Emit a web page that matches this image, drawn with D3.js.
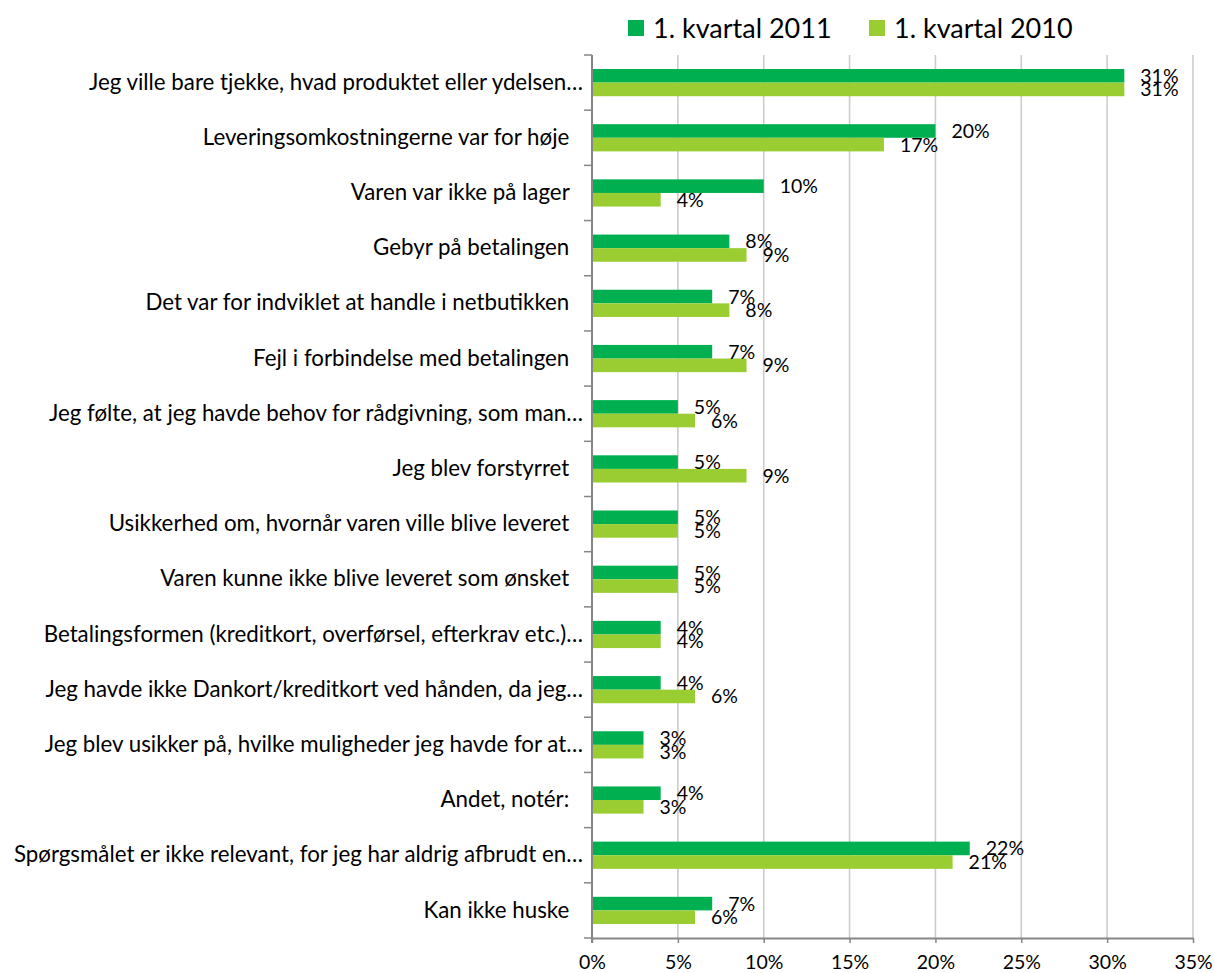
<!DOCTYPE html>
<html>
<head>
<meta charset="utf-8">
<script src="https://cdn.jsdelivr.net/npm/d3@7"></script>
<style>
  body { margin: 0; background: #fff; }
  svg { display: block; font-family: Lato, 'Open Sans', sans-serif; }
</style>
</head>
<body>
<div id="chart"></div>
<script>
  // Categories (top to bottom) — trailing spaces kept as in the original labels
  const categories = [
    'Jeg ville bare tjekke, hvad produktet eller ydelsen…',
    'Leveringsomkostningerne var for høje ',
    'Varen var ikke på lager ',
    'Gebyr på betalingen ',
    'Det var for indviklet at handle i netbutikken ',
    'Fejl i forbindelse med betalingen ',
    'Jeg følte, at jeg havde behov for rådgivning, som man…',
    'Jeg blev forstyrret ',
    'Usikkerhed om, hvornår varen ville blive leveret ',
    'Varen kunne ikke blive leveret som ønsket ',
    'Betalingsformen (kreditkort, overførsel, efterkrav etc.)…',
    'Jeg havde ikke Dankort/kreditkort ved hånden, da jeg…',
    'Jeg blev usikker på, hvilke muligheder jeg havde for at…',
    'Andet, notér: ',
    'Spørgsmålet er ikke relevant, for jeg har aldrig afbrudt en…',
    'Kan ikke huske '
  ];

  const seriesNames = ['1. kvartal 2011', '1. kvartal 2010'];
  const values2011 = [31, 20, 10, 8, 7, 7, 5, 5, 5, 5, 4, 4, 3, 4, 22, 7];
  const values2010 = [31, 17, 4, 9, 8, 9, 6, 9, 5, 5, 4, 6, 3, 3, 21, 6];
  const xTicks = [0, 5, 10, 15, 20, 25, 30, 35];

  const COLORS = { '1. kvartal 2011': '#00b050', '1. kvartal 2010': '#9acd32' };
  const FONT = "Lato, 'Open Sans', sans-serif";

  const width = 1214, height = 973;
  const plot = { left: 592, right: 1193, top: 55, bottom: 938 };

  const svg = d3.select('#chart').append('svg')
    .attr('width', width)
    .attr('height', height);

  svg.append('rect').attr('width', width).attr('height', height).attr('fill', '#fff');

  const x = d3.scaleLinear().domain([0, 35]).range([plot.left, plot.right]);
  const y0 = d3.scaleBand().domain(categories).range([plot.top, plot.bottom]).padding(0);
  const half = 13.6;
  const y1 = d3.scaleBand().domain(seriesNames)
    .range([y0.bandwidth() / 2 - half, y0.bandwidth() / 2 + half]);

  // Gridlines
  svg.append('g').attr('class', 'grid')
    .selectAll('line')
    .data(xTicks.filter(d => d > 0))
    .join('line')
    .attr('x1', d => x(d)).attr('x2', d => x(d))
    .attr('y1', plot.top).attr('y2', plot.bottom)
    .attr('stroke', '#cccccc')
    .attr('stroke-width', 1.6);

  // Bars
  const rows = categories.map((c, i) => ({
    cat: c,
    vals: [
      { s: seriesNames[0], v: values2011[i] },
      { s: seriesNames[1], v: values2010[i] }
    ]
  }));

  const group = svg.append('g').attr('class', 'bars')
    .selectAll('g')
    .data(rows)
    .join('g')
    .attr('transform', d => 'translate(0,' + y0(d.cat) + ')');

  group.selectAll('rect')
    .data(d => d.vals)
    .join('rect')
    .attr('x', x(0))
    .attr('y', d => y1(d.s))
    .attr('width', d => x(d.v) - x(0))
    .attr('height', y1.bandwidth())
    .attr('fill', d => COLORS[d.s]);

  // Data labels
  group.selectAll('text')
    .data(d => d.vals)
    .join('text')
    .attr('x', d => x(d.v) + 16)
    .attr('y', d => y1(d.s) + y1.bandwidth() / 2)
    .attr('dy', '0.36em')
    .attr('font-size', '19.5px')
    .attr('fill', '#000')
    .text(d => d.v + '%');

  // Left axis: labels (untruncated labels sit a little further left, as in Excel)
  const yAxis = svg.append('g')
    .attr('transform', 'translate(' + plot.left + ',0)')
    .call(d3.axisLeft(y0).tickSize(0).tickPadding(9))
    .attr('font-family', FONT);
  yAxis.select('.domain').remove();
  yAxis.selectAll('text')
    .attr('font-size', '22.3px')
    .attr('fill', '#000')
    .attr('dx', d => d.endsWith('…') ? 0 : -8)
    .style('white-space', 'pre');

  // Left axis: line and tick marks between categories
  const bounds = d3.range(categories.length + 1).map(i => plot.top + i * y0.step());
  svg.append('g').selectAll('line')
    .data(bounds)
    .join('line')
    .attr('x1', plot.left - 8).attr('x2', plot.left)
    .attr('y1', d => d).attr('y2', d => d)
    .attr('stroke', '#868686').attr('stroke-width', 1.5);
  svg.append('line')
    .attr('x1', plot.left).attr('x2', plot.left)
    .attr('y1', plot.top).attr('y2', plot.bottom + 5)
    .attr('stroke', '#868686').attr('stroke-width', 2);

  // Bottom axis
  const xAxis = svg.append('g')
    .attr('transform', 'translate(0,' + plot.bottom + ')')
    .call(d3.axisBottom(x).tickValues(xTicks).tickFormat(d => d + '%').tickSize(5).tickSizeOuter(0).tickPadding(12))
    .attr('font-family', FONT);
  xAxis.select('.domain').attr('stroke', '#868686').attr('stroke-width', 2);
  xAxis.selectAll('.tick line').attr('stroke', '#868686').attr('stroke-width', 1.5);
  xAxis.selectAll('text').attr('font-size', '19.5px').attr('fill', '#000');

  // Legend
  const legendX = [628, 869];
  const legend = svg.append('g').attr('class', 'legend')
    .selectAll('g')
    .data(seriesNames)
    .join('g')
    .attr('transform', (d, i) => 'translate(' + legendX[i] + ',20)');
  legend.append('rect')
    .attr('width', 16).attr('height', 16)
    .attr('fill', d => COLORS[d]);
  legend.append('text')
    .attr('x', 25).attr('y', 8)
    .attr('dy', '0.36em')
    .attr('font-size', '27px')
    .attr('fill', '#000')
    .text(d => d);
</script>
</body>
</html>
